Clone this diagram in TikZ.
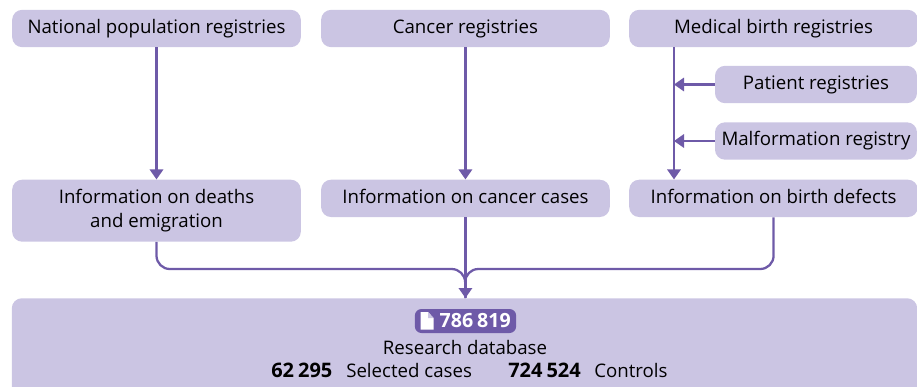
\documentclass[tikz,border=0pt]{standalone}
\usepackage{fontspec}
\setmainfont{Open Sans}
\usetikzlibrary{positioning,arrows.meta}
\definecolor{boxfill}{HTML}{CBC5E3}
\definecolor{linkcol}{HTML}{6E5AA8}
\tikzset{
 regbox/.style={fill=boxfill, rounded corners=7.5pt, inner sep=0pt, align=center,
 text=black, font=\fontsize{14}{17.6}\selectfont, minimum width=216.5pt, minimum height=28pt},
 onebox/.style={regbox, text height=10.5pt, text depth=3.5pt},
 smallbox/.style={onebox, minimum width=151.5pt},
 link/.style={draw=linkcol, line width=1.7pt, -{Triangle[width=10pt,length=7.5pt]}},
 feed/.style={draw=linkcol, line width=1.7pt},
 tag/.style={inner sep=0pt, font=\fontsize{14}{17.6}\selectfont},
 numtag/.style={tag, font=\fontsize{15}{17.6}\selectfont\bfseries},
}
\newcommand{\tsp}{\hspace{0.2em}}
\begin{document}
\begin{tikzpicture}[x=0.75pt, y=-0.75pt]
 \clip (0,0) rectangle (917,386);
 % top row
 \node[onebox] (national) at (156.5,28.5) {National population registries};
 \node[onebox, right=14.8pt of national] (cancer) {Cancer registries};
 \node[onebox, right=14.2pt of cancer] (medical) {Medical birth registries};
 \node[smallbox] (patient) at (816,84.5) {Patient registries};
 \node[smallbox] (malform) at (816,141) {Malformation registry};
 % second row
 \node[regbox, below=99pt of national, minimum height=46.5pt] (deaths) {Information on deaths\\and emigration};
 \node[onebox, below=99pt of cancer] (cases) {Information on cancer cases};
 \node[onebox, below=99pt of medical] (defects) {Information on birth defects};
 % database
 \node[fill=boxfill, rounded corners=7.5pt, minimum width=679pt, minimum height=80pt,
 inner sep=0pt, anchor=north] (database) at (464.5,298) {};
 \node[fill=linkcol, rounded corners=5pt, minimum width=76pt, minimum height=18pt,
 inner sep=0pt] (badge) at (465.5,321) {};
 \node[numtag, text=white, anchor=base east, font=\fontsize{14.7}{17.6}\selectfont\bfseries] (total) at (511,327.5) {786\tsp819};
 \fill[white] (420.5,312) -- (428,312) -- (433.5,318) -- (433.5,329.5) -- (420.5,329.5) -- cycle;
 \fill[boxfill] (428,312) -- (433.5,318) -- (428,318) -- cycle;
 \node[tag, anchor=base] (title) at (465,354) {Research database};
 \node[numtag, anchor=base west] (n1) at (271,377) {62\tsp295};
 \node[tag, anchor=base west] (l1) at (346,377) {Selected cases};
 \node[numtag, anchor=base west] (n2) at (508,377) {724\tsp524};
 \node[tag, anchor=base west] (l2) at (594,377) {Controls};
 % connectors
 \coordinate (bus) at (674,47);
 \coordinate (merge) at (465,269);
 \draw[link] (national) -- (national |- deaths.north);
 \draw[link] (cancer) -- (cases);
 \draw[link] (bus) -- (bus |- defects.north);
 \draw[link] (patient) -- (bus |- patient);
 \draw[link] (malform) -- (bus |- malform);
 \draw[feed, rounded corners=10pt] (deaths.south) |- (merge) -- (cases.south |- database.north);
 \draw[feed, rounded corners=10pt] (defects.south) |- (merge) -- (cases.south |- database.north);
 \draw[link] (cases) -- (cases.south |- database.north);
\end{tikzpicture}
\end{document}
